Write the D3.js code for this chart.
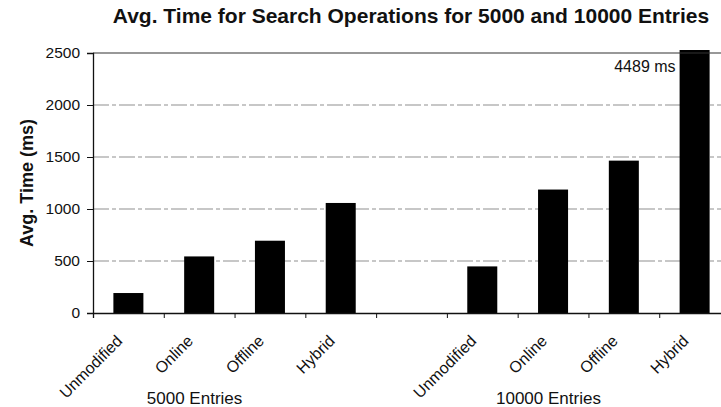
<!DOCTYPE html>
<html>
<head>
<meta charset="utf-8">
<script src="https://cdn.jsdelivr.net/npm/d3@7"></script>
<style>
  html, body { margin: 0; padding: 0; background: #fff; }
  svg { display: block; font-family: "Liberation Sans", Arial, Helvetica, sans-serif; }
</style>
</head>
<body>
<svg id="chart" width="721" height="407"></svg>
<script>
// Search timings (ms) per implementation, for two table sizes
const categories = ["Unmodified", "Online", "Offline", "Hybrid"];
const groups = ["5000 Entries", "10000 Entries"];
const times5000 = [192, 544, 695, 1058];
const times10000 = [448, 1187, 1465, 4489];
const yTicks = [0, 500, 1000, 1500, 2000, 2500];
const title = "Avg. Time for Search Operations for 5000 and 10000 Entries";
const yTitle = "Avg. Time (ms)";
const valueSuffix = " ms";

const svg = d3.select("#chart");
const margin = { left: 93, right: -9, top: 53, bottom: 94 };
const W = 721 - margin.left - margin.right;
const H = 407 - margin.top - margin.bottom;

// One slot per bar, plus an empty slot between the two groups
const rows = [];
times5000.forEach((v, i) => rows.push({ key: "a" + i, cat: categories[i], group: 0, value: v }));
rows.push({ key: "gap", cat: "", group: -1, value: null });
times10000.forEach((v, i) => rows.push({ key: "b" + i, cat: categories[i], group: 1, value: v }));

const x = d3.scaleBand()
  .domain(rows.map(d => d.key))
  .range([0, W])
  .paddingInner(0.576)
  .paddingOuter(0.288);

const slot = d3.scaleLinear().domain([0, rows.length]).range([0, W]);

const y = d3.scaleLinear().domain([0, 2500]).range([H, 0]);

const g = svg.append("g").attr("transform", `translate(${margin.left},${margin.top})`);

// gridlines
g.append("g")
  .selectAll("line")
  .data(yTicks.filter(t => t > 0 && t < 2500))
  .join("line")
  .attr("x1", 0).attr("x2", W)
  .attr("y1", d => y(d)).attr("y2", d => y(d))
  .attr("stroke", "#8f8f8f")
  .attr("stroke-width", 1)
  .attr("stroke-dasharray", "16,3,4,3");

// bars, clipped slightly above the top of the value axis
svg.append("defs").append("clipPath").attr("id", "plotclip")
  .append("rect").attr("x", -2).attr("y", -3).attr("width", W + 4).attr("height", H + 3);

g.append("g").attr("clip-path", "url(#plotclip)")
  .selectAll("rect")
  .data(rows.filter(d => d.value !== null))
  .join("rect")
  .attr("x", d => x(d.key))
  .attr("width", x.bandwidth())
  .attr("y", d => y(d.value))
  .attr("height", d => H - y(d.value))
  .attr("fill", "#000");

// plot frame top
g.append("line")
  .attr("x1", 0).attr("x2", W).attr("y1", y(2500)).attr("y2", y(2500))
  .attr("stroke", "#333").attr("stroke-width", 1.2);

// y axis
const yAxis = g.append("g")
  .call(d3.axisLeft(y).tickValues(yTicks).tickSize(6).tickPadding(7).tickFormat(d3.format("d")));
yAxis.select(".domain").attr("stroke", "#111").attr("stroke-width", 1.3);
yAxis.selectAll(".tick line").attr("stroke", "#111");
yAxis.selectAll("text")
  .attr("font-size", 15.5)
  .attr("fill", "#111")
  .attr("font-family", "'Liberation Sans', Arial, sans-serif");

// x axis: ticks at slot boundaries
const xAxis = g.append("g")
  .attr("transform", `translate(0,${H})`)
  .call(d3.axisBottom(slot).tickValues(d3.range(rows.length + 1)).tickSize(5).tickFormat(""));
xAxis.select(".domain").attr("stroke", "#111").attr("stroke-width", 1.3);
xAxis.selectAll(".tick line").attr("stroke", "#111");

// category labels, rotated
g.append("g")
  .selectAll("text")
  .data(rows.filter(d => d.cat))
  .join("text")
  .attr("transform", d => `translate(${x(d.key) + x.bandwidth() / 2 - 5},${H + 29}) rotate(-45)`)
  .attr("text-anchor", "end")
  .attr("font-size", 16)
  .attr("fill", "#111")
  .text(d => d.cat);

// group labels
groups.forEach((name, gi) => {
  const keys = rows.filter(d => d.group === gi).map(d => x(d.key) + x.bandwidth() / 2);
  g.append("text")
    .attr("x", (d3.min(keys) + d3.max(keys)) / 2 - 40)
    .attr("y", H + 91)
    .attr("text-anchor", "middle")
    .attr("font-size", 17)
    .attr("fill", "#111")
    .text(name);
});

// value label for the bar that runs off the scale
const over = rows.filter(d => d.value !== null && d.value > 2500);
g.append("g")
  .selectAll("text")
  .data(over)
  .join("text")
  .attr("x", d => x(d.key) - 4)
  .attr("y", y(2500) + 19)
  .attr("text-anchor", "end")
  .attr("font-size", 16)
  .attr("fill", "#111")
  .text(d => d.value + valueSuffix);

// titles
svg.append("text")
  .attr("x", 411)
  .attr("y", 23)
  .attr("text-anchor", "middle")
  .attr("font-size", 21)
  .attr("font-weight", "bold")
  .attr("fill", "#111")
  .text(title);

svg.append("text")
  .attr("transform", `translate(33,${margin.top + H / 2}) rotate(-90)`)
  .attr("text-anchor", "middle")
  .attr("font-size", 18)
  .attr("font-weight", "bold")
  .attr("fill", "#111")
  .text(yTitle);
</script>
</body>
</html>
